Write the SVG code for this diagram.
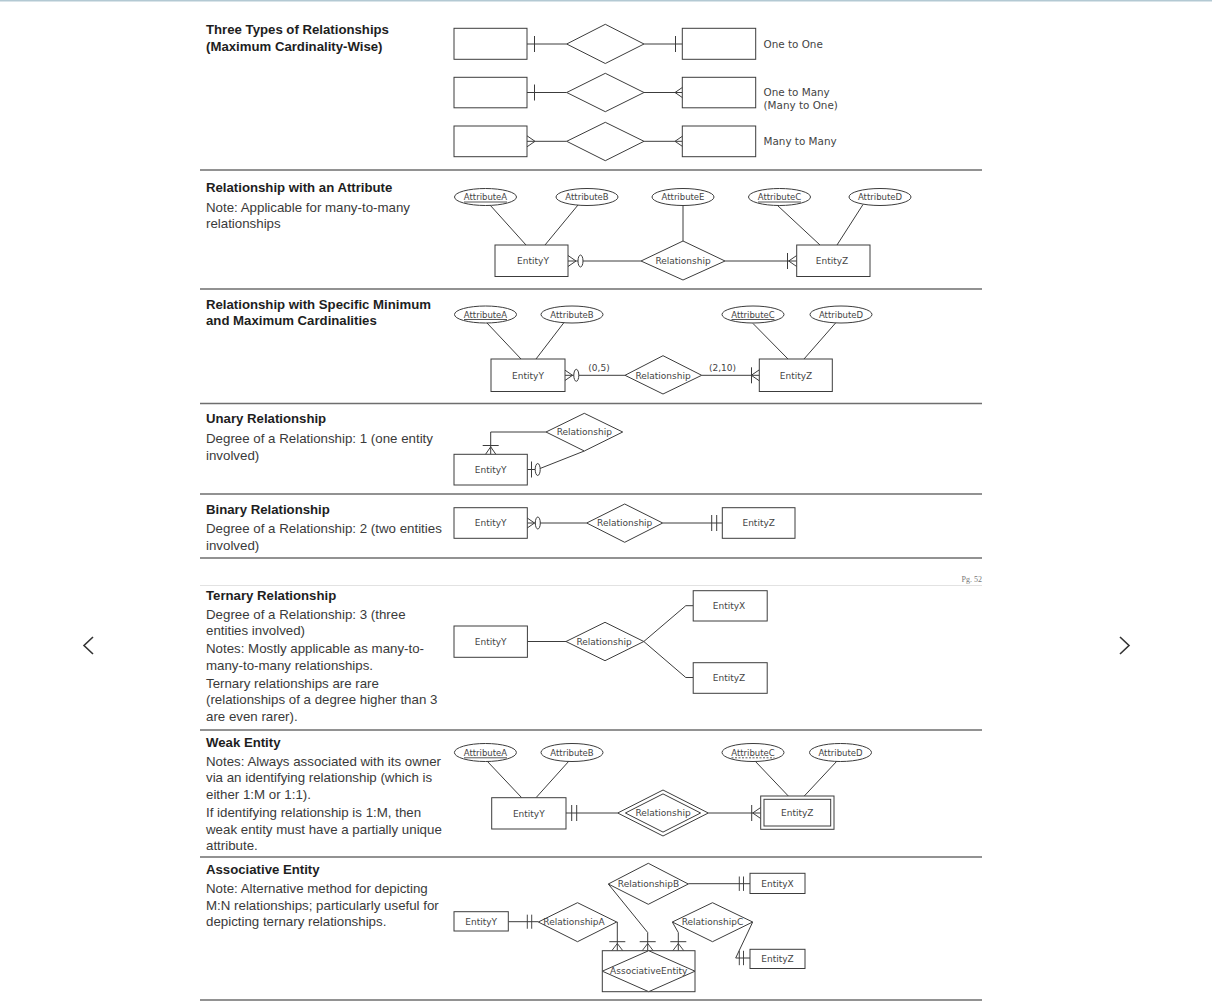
<svg xmlns="http://www.w3.org/2000/svg" xmlns:xlink="http://www.w3.org/1999/xlink" width="1212" height="1002" viewBox="0 0 1212 1002">
<style>
.ln{stroke:#3c3c3c;stroke-width:1;fill:none}
.box{fill:#fff;stroke:#3c3c3c;stroke-width:1}
.lbl{font-family:"DejaVu Sans",Verdana,sans-serif;font-size:9px;fill:#444;text-anchor:middle}
.att{font-size:8.5px}
.lbl2{font-family:"DejaVu Sans",Verdana,sans-serif;font-size:10.4px;fill:#444}
.h{font-family:"Liberation Sans",Arial,sans-serif;font-weight:bold;font-size:13.2px;fill:#1e1e1e}
.t{font-family:"Liberation Sans",Arial,sans-serif;font-size:13.3px;fill:#3a3a3a}
.sep{stroke:#6e6e6e;stroke-width:1.4}
.ul{stroke:#444;stroke-width:0.9}
</style>
<defs>
<line id="tk" x1="0" y1="-8" x2="0" y2="8" class="ln"/>
<path id="ft" d="M0,0 L8,-5.5 M0,0 L8,5.5" class="ln"/>
<ellipse id="ov" cx="0" cy="0" rx="2.5" ry="6" class="box"/>
</defs>
<rect x="0" y="0" width="1212" height="1002" fill="#fff"/>
<rect x="0" y="0" width="1212" height="1.5" fill="#b3c9d3"/>

<g id="separators">
<line class="sep" x1="200" y1="170" x2="982" y2="170"/>
<line class="sep" x1="200" y1="289" x2="982" y2="289"/>
<line class="sep" x1="200" y1="403.5" x2="982" y2="403.5"/>
<line class="sep" x1="200" y1="494" x2="982" y2="494"/>
<line class="sep" x1="200" y1="558" x2="982" y2="558"/>
<line x1="200" y1="585.5" x2="982" y2="585.5" stroke="#e2e2e2" stroke-width="1"/>
<line class="sep" x1="200" y1="730" x2="982" y2="730"/>
<line class="sep" x1="200" y1="857" x2="982" y2="857"/>
<line class="sep" x1="200" y1="1000" x2="982" y2="1000"/>
</g>
<text x="982" y="582" text-anchor="end" font-family="Liberation Serif,serif" font-size="8px" fill="#777">Pg. 52</text>
<g id="nav">
<polyline points="93,637 84,645.5 93,654" fill="none" stroke="#333" stroke-width="1.6"/>
<polyline points="1120,637 1129,645.5 1120,654" fill="none" stroke="#333" stroke-width="1.6"/>
</g>

<g id="left-text">
<text class="h" x="206" y="34">Three Types of Relationships</text>
<text class="h" x="206" y="50.5">(Maximum Cardinality-Wise)</text>
<text class="h" x="206" y="192">Relationship with an Attribute</text>
<text class="t" x="206" y="211.5">Note: Applicable for many-to-many</text>
<text class="t" x="206" y="228">relationships</text>
<text class="h" x="206" y="308.5">Relationship with Specific Minimum</text>
<text class="h" x="206" y="325">and Maximum Cardinalities</text>
<text class="h" x="206" y="423">Unary Relationship</text>
<text class="t" x="206" y="443">Degree of a Relationship: 1 (one entity</text>
<text class="t" x="206" y="459.5">involved)</text>
<text class="h" x="206" y="514">Binary Relationship</text>
<text class="t" x="206" y="533">Degree of a Relationship: 2 (two entities</text>
<text class="t" x="206" y="550">involved)</text>
<text class="h" x="206" y="599.5">Ternary Relationship</text>
<text class="t" x="206" y="618.5">Degree of a Relationship: 3 (three</text>
<text class="t" x="206" y="635">entities involved)</text>
<text class="t" x="206" y="653">Notes: Mostly applicable as many-to-</text>
<text class="t" x="206" y="669.5">many-to-many relationships.</text>
<text class="t" x="206" y="687.5">Ternary relationships are rare</text>
<text class="t" x="206" y="704">(relationships of a degree higher than 3</text>
<text class="t" x="206" y="721">are even rarer).</text>
<text class="h" x="206" y="747">Weak Entity</text>
<text class="t" x="206" y="765.5">Notes: Always associated with its owner</text>
<text class="t" x="206" y="782">via an identifying relationship (which is</text>
<text class="t" x="206" y="798.5">either 1:M or 1:1).</text>
<text class="t" x="206" y="817">If identifying relationship is 1:M, then</text>
<text class="t" x="206" y="833.5">weak entity must have a partially unique</text>
<text class="t" x="206" y="850">attribute.</text>
<text class="h" x="206" y="874">Associative Entity</text>
<text class="t" x="206" y="893">Note: Alternative method for depicting</text>
<text class="t" x="206" y="909.5">M:N relationships; particularly useful for</text>
<text class="t" x="206" y="926">depicting ternary relationships.</text>
</g>

<g id="connectors">
<line class="ln" x1="527" y1="44" x2="566.7" y2="44"/>
<line class="ln" x1="644" y1="44" x2="682.3" y2="44"/>
<use href="#tk" xlink:href="#tk" transform="translate(534.5,44)"/>
<use href="#tk" xlink:href="#tk" transform="translate(675.5,44)"/>
<line class="ln" x1="527" y1="92.5" x2="566.7" y2="92.5"/>
<line class="ln" x1="644" y1="92.5" x2="682.3" y2="92.5"/>
<use href="#tk" xlink:href="#tk" transform="translate(534.5,92.5)"/>
<use href="#ft" xlink:href="#ft" transform="translate(675,92.5)"/>
<line class="ln" x1="527" y1="141.3" x2="566.7" y2="141.3"/>
<line class="ln" x1="644" y1="141.3" x2="682.3" y2="141.3"/>
<use href="#ft" xlink:href="#ft" transform="translate(535,141.3) scale(-1,1)"/>
<use href="#ft" xlink:href="#ft" transform="translate(675,141.3)"/>
<line class="ln" x1="490" y1="205" x2="526" y2="245"/>
<line class="ln" x1="578" y1="205" x2="545" y2="245"/>
<line class="ln" x1="683" y1="205.5" x2="683" y2="241"/>
<line class="ln" x1="777" y1="205" x2="820" y2="245"/>
<line class="ln" x1="863" y1="204.5" x2="837" y2="245"/>
<line class="ln" x1="568" y1="261" x2="641" y2="261"/>
<use href="#ft" xlink:href="#ft" transform="translate(576,261) scale(-1,1)"/>
<use href="#ov" xlink:href="#ov" transform="translate(580.5,261)"/>
<line class="ln" x1="725" y1="261" x2="796.7" y2="261"/>
<use href="#tk" xlink:href="#tk" transform="translate(787.5,261)"/>
<use href="#ft" xlink:href="#ft" transform="translate(788.7,261)"/>
<line class="ln" x1="487" y1="323" x2="521" y2="359"/>
<line class="ln" x1="564" y1="322.5" x2="536" y2="359"/>
<line class="ln" x1="753" y1="323.5" x2="788" y2="359"/>
<line class="ln" x1="836" y1="322.5" x2="804" y2="359"/>
<line class="ln" x1="565" y1="375.3" x2="625" y2="375.3"/>
<use href="#ft" xlink:href="#ft" transform="translate(572.5,375.3) scale(-1,1)"/>
<use href="#ov" xlink:href="#ov" transform="translate(576.3,375.3)"/>
<line class="ln" x1="701.7" y1="375.3" x2="759.3" y2="375.3"/>
<use href="#tk" xlink:href="#tk" transform="translate(751.5,375.3)"/>
<use href="#ft" xlink:href="#ft" transform="translate(751.3,375.3)"/>
<text class="lbl" x="599" y="371">(0,5)</text>
<text class="lbl" x="722.5" y="371">(2,10)</text>
<polyline class="ln" points="546,432 490.7,432 490.7,454.3"/>
<use href="#tk" xlink:href="#tk" transform="translate(490.7,445.5) rotate(90)"/>
<use href="#ft" xlink:href="#ft" transform="translate(490.7,446.8) rotate(90)"/>
<line class="ln" x1="527.3" y1="469.5" x2="535.2" y2="469.5"/>
<use href="#tk" xlink:href="#tk" transform="translate(531.5,469.5)"/>
<line class="ln" x1="540" y1="468.5" x2="584.3" y2="451"/>
<use href="#ov" xlink:href="#ov" transform="translate(537.7,469.5)"/>
<line class="ln" x1="527.3" y1="523" x2="586.7" y2="523"/>
<use href="#ft" xlink:href="#ft" transform="translate(534.5,523) scale(-1,1)"/>
<use href="#ov" xlink:href="#ov" transform="translate(537.8,523)"/>
<line class="ln" x1="662.7" y1="523" x2="722.3" y2="523"/>
<use href="#tk" xlink:href="#tk" transform="translate(711.7,523)"/>
<use href="#tk" xlink:href="#tk" transform="translate(716.7,523)"/>
<line class="ln" x1="527.4" y1="641.5" x2="566" y2="641.5"/>
<polyline class="ln" points="643.8,641.5 685.8,605.7 693.2,605.7"/>
<polyline class="ln" points="643.8,641.5 685.8,677.5 693.2,677.5"/>
<line class="ln" x1="487" y1="761" x2="521.7" y2="797.7"/>
<line class="ln" x1="569" y1="761" x2="536" y2="797.7"/>
<line class="ln" x1="755" y1="761" x2="788.3" y2="796"/>
<line class="ln" x1="837" y1="761" x2="804.3" y2="796"/>
<line class="ln" x1="566" y1="813" x2="617.7" y2="813"/>
<use href="#tk" xlink:href="#tk" transform="translate(571.7,813)"/>
<use href="#tk" xlink:href="#tk" transform="translate(576.7,813)"/>
<line class="ln" x1="708.3" y1="813" x2="760.7" y2="813"/>
<use href="#tk" xlink:href="#tk" transform="translate(751.7,813)"/>
<use href="#ft" xlink:href="#ft" transform="translate(752.7,813)"/>
<line class="ln" x1="508.3" y1="921.7" x2="538.3" y2="921.7"/>
<use href="#tk" xlink:href="#tk" transform="translate(527.3,921.7) scale(1,0.88)"/>
<use href="#tk" xlink:href="#tk" transform="translate(531.7,921.7) scale(1,0.88)"/>
<line class="ln" x1="688.3" y1="883.7" x2="750" y2="883.7"/>
<use href="#tk" xlink:href="#tk" transform="translate(739.3,883.7) scale(1,0.9)"/>
<use href="#tk" xlink:href="#tk" transform="translate(743.5,883.7) scale(1,0.9)"/>
<polyline class="ln" points="752.7,922 735.7,958 750,958"/>
<use href="#tk" xlink:href="#tk" transform="translate(739.3,958) scale(1,0.9)"/>
<use href="#tk" xlink:href="#tk" transform="translate(743.5,958) scale(1,0.9)"/>
<polyline class="ln" points="616.7,922 617.3,922 617.3,950.7"/>
<use href="#tk" xlink:href="#tk" transform="translate(617.3,941.7) rotate(90)"/>
<use href="#ft" xlink:href="#ft" transform="translate(617.3,943.5) rotate(90) scale(0.9,1)"/>
<polyline class="ln" points="608.3,884 647.7,932.5 647.7,950.7"/>
<use href="#tk" xlink:href="#tk" transform="translate(647.7,941.7) rotate(90)"/>
<use href="#ft" xlink:href="#ft" transform="translate(647.7,943.5) rotate(90) scale(0.9,1)"/>
<polyline class="ln" points="672.3,922 678.3,932.5 678.3,950.7"/>
<use href="#tk" xlink:href="#tk" transform="translate(678.3,941.7) rotate(90)"/>
<use href="#ft" xlink:href="#ft" transform="translate(678.3,943.5) rotate(90) scale(0.9,1)"/>
</g>

<g id="s1-r1-left"><rect class="box" x="454" y="28.3" width="73" height="31"/></g>
<g id="s1-r1-rel"><polygon class="box" points="566.7,44 605.3,24.3 644,44 605.3,63.5"/></g>
<g id="s1-r1-right"><rect class="box" x="682.3" y="28.3" width="73.4" height="31"/></g>
<text class="lbl2" x="763.5" y="47.5">One to One</text>
<g id="s1-r2-left"><rect class="box" x="454" y="77.3" width="73" height="30.5"/></g>
<g id="s1-r2-rel"><polygon class="box" points="566.7,92.5 605.3,73.3 644,92.5 605.3,111.7"/></g>
<g id="s1-r2-right"><rect class="box" x="682.3" y="77.3" width="73.4" height="30.5"/></g>
<text class="lbl2" x="763.5" y="96">One to Many</text>
<text class="lbl2" x="763.5" y="109">(Many to One)</text>
<g id="s1-r3-left"><rect class="box" x="454" y="126" width="73" height="30.7"/></g>
<g id="s1-r3-rel"><polygon class="box" points="566.7,141.3 605.3,122.3 644,141.3 605.3,160.7"/></g>
<g id="s1-r3-right"><rect class="box" x="682.3" y="126" width="73.4" height="30.7"/></g>
<text class="lbl2" x="763.5" y="145">Many to Many</text>

<g id="s2-attrA"><ellipse class="box" cx="485.5" cy="197" rx="31" ry="8.5"/><text class="lbl att" x="485.5" y="200">AttributeA</text><line class="ul" x1="464" y1="202" x2="507" y2="202"/></g>
<g id="s2-attrB"><ellipse class="box" cx="587" cy="197" rx="31" ry="8.5"/><text class="lbl att" x="587" y="200">AttributeB</text></g>
<g id="s2-attrE"><ellipse class="box" cx="683" cy="197" rx="31" ry="8.5"/><text class="lbl att" x="683" y="200">AttributeE</text></g>
<g id="s2-attrC"><ellipse class="box" cx="779.5" cy="197" rx="31" ry="8.5"/><text class="lbl att" x="779.5" y="200">AttributeC</text><line class="ul" x1="758" y1="202" x2="801" y2="202"/></g>
<g id="s2-attrD"><ellipse class="box" cx="880" cy="197" rx="31" ry="8.5"/><text class="lbl att" x="880" y="200">AttributeD</text></g>
<g id="s2-entityY"><rect class="box" x="495" y="245" width="73" height="31.5"/><text class="lbl" x="533" y="264">EntityY</text></g>
<g id="s2-rel"><polygon class="box" points="641,261 683,241 725,261 683,280"/><text class="lbl" x="683" y="264">Relationship</text></g>
<g id="s2-entityZ"><rect class="box" x="796.7" y="245" width="73.3" height="31.5"/><text class="lbl" x="832" y="264">EntityZ</text></g>

<g id="s3-attrA"><ellipse class="box" cx="485.5" cy="314.5" rx="31" ry="8.5"/><text class="lbl att" x="485.5" y="317.5">AttributeA</text><line class="ul" x1="464" y1="319.5" x2="507" y2="319.5"/></g>
<g id="s3-attrB"><ellipse class="box" cx="572" cy="314.5" rx="31" ry="8.5"/><text class="lbl att" x="572" y="317.5">AttributeB</text></g>
<g id="s3-attrC"><ellipse class="box" cx="753" cy="314.5" rx="31" ry="8.5"/><text class="lbl att" x="753" y="317.5">AttributeC</text><line class="ul" x1="731.5" y1="319.5" x2="774.5" y2="319.5"/></g>
<g id="s3-attrD"><ellipse class="box" cx="841" cy="314.5" rx="31" ry="8.5"/><text class="lbl att" x="841" y="317.5">AttributeD</text></g>
<g id="s3-entityY"><rect class="box" x="491" y="359" width="74" height="32.5"/><text class="lbl" x="528" y="378.5">EntityY</text></g>
<g id="s3-rel"><polygon class="box" points="625,375.3 663,355.7 701.7,375.3 663,394"/><text class="lbl" x="663" y="378.5">Relationship</text></g>
<g id="s3-entityZ"><rect class="box" x="759.3" y="359" width="73" height="32.5"/><text class="lbl" x="796" y="378.5">EntityZ</text></g>

<g id="s4-entityY"><rect class="box" x="454" y="454.3" width="73.3" height="30.7"/><text class="lbl" x="490.7" y="472.8">EntityY</text></g>
<g id="s4-rel"><polygon class="box" points="546,432 584.3,413.3 622.7,432 584.3,451"/><text class="lbl" x="584.3" y="435.2">Relationship</text></g>

<g id="s5-entityY"><rect class="box" x="454" y="507.7" width="73.3" height="30.6"/><text class="lbl" x="490.7" y="526.2">EntityY</text></g>
<g id="s5-rel"><polygon class="box" points="586.7,523 624.7,504 662.7,523 624.7,542.3"/><text class="lbl" x="624.7" y="526.2">Relationship</text></g>
<g id="s5-entityZ"><rect class="box" x="722.3" y="507.7" width="72.7" height="30.6"/><text class="lbl" x="758.7" y="526.2">EntityZ</text></g>

<g id="s6-entityY"><rect class="box" x="454" y="626" width="73.4" height="31.3"/><text class="lbl" x="490.7" y="644.8">EntityY</text></g>
<g id="s6-rel"><polygon class="box" points="566,641.5 605,622.3 643.8,641.5 605,660.7"/><text class="lbl" x="604" y="644.7">Relationship</text></g>
<g id="s6-entityX"><rect class="box" x="693.2" y="590.7" width="74" height="30.3"/><text class="lbl" x="729" y="609">EntityX</text></g>
<g id="s6-entityZ"><rect class="box" x="693.2" y="662.7" width="74" height="30.6"/><text class="lbl" x="729" y="681">EntityZ</text></g>

<g id="s7-attrA"><ellipse class="box" cx="485.4" cy="752.5" rx="31" ry="9"/><text class="lbl att" x="485.4" y="755.5">AttributeA</text><line class="ul" x1="464" y1="757.8" x2="507" y2="757.8"/></g>
<g id="s7-attrB"><ellipse class="box" cx="572" cy="752.5" rx="31" ry="9"/><text class="lbl att" x="572" y="755.5">AttributeB</text></g>
<g id="s7-attrC"><ellipse class="box" cx="753" cy="752.5" rx="31" ry="9"/><text class="lbl att" x="753" y="755.5">AttributeC</text><line class="ul" x1="731.5" y1="757.8" x2="774.5" y2="757.8" stroke-dasharray="2,1.5"/></g>
<g id="s7-attrD"><ellipse class="box" cx="840.5" cy="752.5" rx="31" ry="9"/><text class="lbl att" x="840.5" y="755.5">AttributeD</text></g>
<g id="s7-entityY"><rect class="box" x="491.7" y="797.7" width="74.3" height="31.3"/><text class="lbl" x="528.8" y="816.5">EntityY</text></g>
<g id="s7-rel"><polygon class="box" points="617.7,813 663,790 708.3,813 663,836"/><polygon class="box" points="625.4,813 663,793.9 700.6,813 663,832.1"/><text class="lbl" x="663" y="816.2">Relationship</text></g>
<g id="s7-entityZ"><rect class="box" x="760.7" y="796" width="73.3" height="33.3"/><rect class="box" x="764" y="799.3" width="66.7" height="26.7"/><text class="lbl" x="797.3" y="816.2">EntityZ</text></g>

<g id="s8-entityY"><rect class="box" x="454" y="911.7" width="54.3" height="19.3"/><text class="lbl" x="481.2" y="924.8">EntityY</text></g>
<g id="s8-relA"><polygon class="box" points="538.3,922 577.5,902.7 616.7,922 577.5,941.7"/><text class="lbl" x="574" y="925.2">RelationshipA</text></g>
<g id="s8-relB"><polygon class="box" points="608.3,884 648.3,863.3 688.3,884 648.3,904.3"/><text class="lbl" x="648.5" y="887">RelationshipB</text></g>
<g id="s8-entityX"><rect class="box" x="750" y="873.3" width="55" height="20.2"/><text class="lbl" x="777.5" y="886.8">EntityX</text></g>
<g id="s8-relC"><polygon class="box" points="672.3,922 712.5,902.7 752.7,922 712.5,941.7"/><text class="lbl" x="712.5" y="925.2">RelationshipC</text></g>
<g id="s8-entityZ"><rect class="box" x="750" y="949.3" width="55" height="19.2"/><text class="lbl" x="777.5" y="962.3">EntityZ</text></g>
<g id="s8-assoc"><rect class="box" x="602.3" y="950.7" width="92.7" height="41"/><polygon class="box" points="602.3,971.2 648.7,950.7 695,971.2 648.7,991.7"/><text class="lbl" x="648.7" y="974.3">AssociativeEntity</text></g>
</svg>
